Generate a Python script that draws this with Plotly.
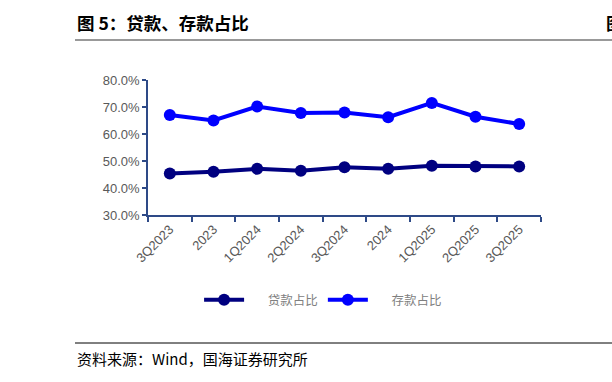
import plotly.graph_objects as go

categories = ["3Q2023", "2023", "1Q2024", "2Q2024", "3Q2024", "2024", "1Q2025", "2Q2025", "3Q2025"]
loan_share = [45.4, 46.0, 47.1, 46.4, 47.7, 47.1, 48.2, 48.0, 48.0]
deposit_share = [67.0, 65.0, 70.2, 67.8, 68.0, 66.2, 71.5, 66.4, 63.7]
y_ticks = [30, 40, 50, 60, 70, 80]
y_tick_labels = [f"{v:.1f}%" for v in y_ticks]

W, H = 612, 382
L, R, T, B = 148, 71, 80, 167
axis_color = "#2E4A87"

fig = go.Figure()
fig.add_trace(go.Scatter(
    x=categories, y=loan_share, name="\u2003\u2002贷款占比", mode="lines+markers",
    line=dict(color="#000080", width=4), marker=dict(size=12, color="#000080"),
))
fig.add_trace(go.Scatter(
    x=categories, y=deposit_share, name="\u2003\u2002存款占比", mode="lines+markers",
    line=dict(color="#0000FF", width=4), marker=dict(size=12, color="#0000FF"),
))

fig.update_layout(
    width=W, height=H,
    margin=dict(l=L, r=R, t=T, b=B),
    paper_bgcolor="white", plot_bgcolor="white",
    font=dict(family="Liberation Sans, Arial, sans-serif", color="#595959", size=12),
    showlegend=True,
    legend=dict(
        orientation="h", x=0.13, xanchor="left", y=-0.63, yanchor="middle",
        font=dict(family="Noto Sans CJK SC", size=12.5, color="#808080"),
        itemwidth=40, tracegroupgap=0,
    ),
    xaxis=dict(
        type="category", showgrid=False, zeroline=False,
        showline=True, linecolor=axis_color, linewidth=1.5,
        ticks="outside", tickson="boundaries", ticklen=5, tickcolor=axis_color, tickwidth=1.5,
        tickangle=-45, tickfont=dict(size=13, color="#595959"),
        range=[-0.5, len(categories) - 0.5],
    ),
    yaxis=dict(
        range=[30, 80], tickvals=y_ticks, ticktext=y_tick_labels,
        showgrid=False, zeroline=False,
        showline=True, linecolor=axis_color, linewidth=1.5,
        ticks="outside", ticklen=4, tickcolor=axis_color, tickwidth=1.5,
        tickfont=dict(size=13, color="#595959"),
    ),
)

# title
fig.add_annotation(
    xref="paper", yref="paper", x=(75 - L) / (W - L - R), y=1 + (T - 22) / (H - T - B),
    xanchor="left", yanchor="middle", showarrow=False,
    text="<b>图 5：贷款、存款占比</b>",
    font=dict(family="Noto Sans CJK SC", size=17.5, color="#000000"),
)
# edge glyph (cut off at the page edge, as in the reference)
fig.add_annotation(
    xref="paper", yref="paper", x=(604 - L) / (W - L - R), y=1 + (T - 22) / (H - T - B),
    xanchor="left", yanchor="middle", showarrow=False,
    text="<b>图</b>",
    font=dict(family="Noto Sans CJK SC", size=17.5, color="#000000"),
)
# footer
fig.add_annotation(
    xref="paper", yref="paper", x=(75 - L) / (W - L - R), y=-(359 - (H - B)) / (H - T - B),
    xanchor="left", yanchor="middle", showarrow=False,
    text="资料来源：Wind，国海证券研究所",
    font=dict(family="Noto Sans CJK SC", size=15, color="#000000"),
)

# header and footer rules
fig.add_shape(type="line", xref="paper", yref="paper",
              x0=(75 - L) / (W - L - R), x1=(W - L) / (W - L - R),
              y0=1 + (T - 40) / (H - T - B), y1=1 + (T - 40) / (H - T - B),
              line=dict(color="#777777", width=1.5))
fig.add_shape(type="line", xref="paper", yref="paper",
              x0=(75 - L) / (W - L - R), x1=(W - L) / (W - L - R),
              y0=-(343 - (H - B)) / (H - T - B), y1=-(343 - (H - B)) / (H - T - B),
              line=dict(color="#000000", width=1))

fig.write_html("out.html")
